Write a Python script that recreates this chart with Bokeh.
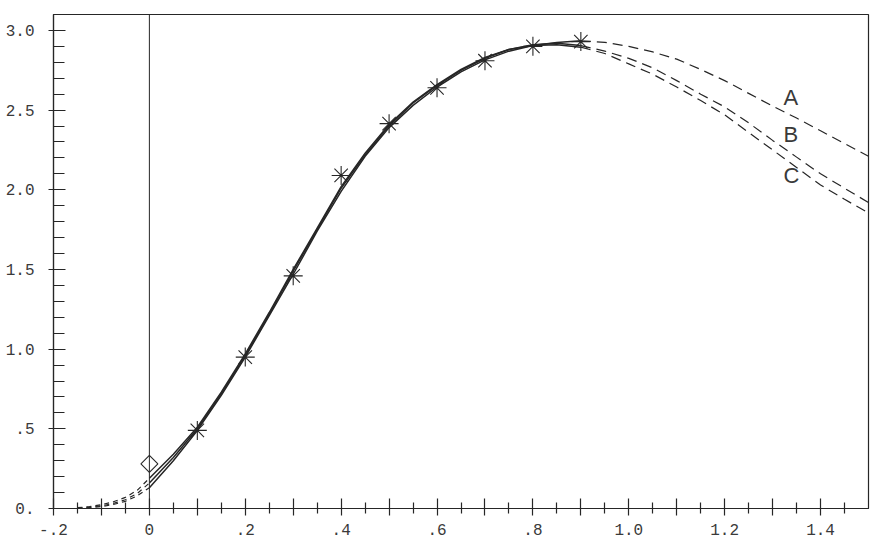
import math
from bokeh.plotting import figure
from bokeh.models import FixedTicker, Span, Range1d, ColumnDataSource
from bokeh.embed import file_html
from bokeh.resources import INLINE

# ---- data ----
x_left = [-0.15, -0.125, -0.1, -0.075, -0.05, -0.025, 0.0]
a_left = [0.0, 0.005, 0.012, 0.025, 0.045, 0.08, 0.13]
b_left = [0.002, 0.008, 0.017, 0.032, 0.055, 0.095, 0.16]
c_left = [0.005, 0.012, 0.024, 0.042, 0.07, 0.115, 0.19]

x_solid = [0.0, 0.05, 0.1, 0.15, 0.2, 0.25, 0.3, 0.35, 0.4, 0.45, 0.5,
           0.55, 0.6, 0.65, 0.7, 0.75, 0.8, 0.85, 0.9]
a_solid = [0.13, 0.30, 0.49, 0.71, 0.95, 1.21, 1.47, 1.74, 1.99, 2.21, 2.39,
           2.53, 2.645, 2.74, 2.815, 2.87, 2.905, 2.925, 2.935]
b_solid = [0.16, 0.32, 0.50, 0.72, 0.96, 1.22, 1.49, 1.75, 2.01, 2.22, 2.40,
           2.545, 2.655, 2.75, 2.825, 2.88, 2.91, 2.92, 2.905]
c_solid = [0.19, 0.34, 0.51, 0.73, 0.97, 1.23, 1.50, 1.76, 2.02, 2.23, 2.41,
           2.55, 2.66, 2.755, 2.83, 2.88, 2.905, 2.91, 2.895]

x_right = [0.9, 0.95, 1.0, 1.05, 1.1, 1.15, 1.2, 1.25, 1.3, 1.35, 1.4, 1.45, 1.5]
a_right = [2.935, 2.925, 2.90, 2.865, 2.82, 2.755, 2.685, 2.605, 2.525, 2.45, 2.37, 2.29, 2.21]
b_right = [2.905, 2.87, 2.825, 2.765, 2.685, 2.60, 2.52, 2.42, 2.31, 2.205, 2.10, 2.01, 1.92]
c_right = [2.895, 2.855, 2.79, 2.725, 2.645, 2.56, 2.47, 2.36, 2.25, 2.14, 2.03, 1.94, 1.855]

x_obs = [0.1, 0.2, 0.3, 0.4, 0.5, 0.6, 0.7, 0.8, 0.9]
y_obs = [0.49, 0.95, 1.46, 2.09, 2.415, 2.64, 2.81, 2.90, 2.93]

x_diamond = [0.0]
y_diamond = [0.28]

curve_labels = ["A", "B", "C"]
label_x = [1.3225, 1.3225, 1.3225]
label_y = [2.58, 2.35, 2.09]

x_major = [-0.2, -0.1, 0.0, 0.1, 0.2, 0.3, 0.4, 0.5, 0.6, 0.7, 0.8, 0.9,
           1.0, 1.1, 1.2, 1.3, 1.4]
x_major_labels = ["-.2", "", "0", "", ".2", "", ".4", "", ".6", "", ".8", "",
                  "1.0", "", "1.2", "", "1.4"]
x_minor = [-0.15, -0.05, 0.05, 0.15, 0.25, 0.35, 0.45, 0.55, 0.65, 0.75,
           0.85, 0.95, 1.05, 1.15, 1.25, 1.35, 1.45]

y_major = [0.0, 0.5, 1.0, 1.5, 2.0, 2.5, 3.0]
y_major_labels = ["0.", ".5", "1.0", "1.5", "2.0", "2.5", "3.0"]
y_minor = [0.1, 0.2, 0.3, 0.4, 0.6, 0.7, 0.8, 0.9, 1.1, 1.2, 1.3, 1.4,
           1.6, 1.7, 1.8, 1.9, 2.1, 2.2, 2.3, 2.4, 2.6, 2.7, 2.8, 2.9, 3.1]

# ---- figure ----
INK = "#262626"
p = figure(width=888, height=549, output_backend="svg", toolbar_location=None,
           x_range=Range1d(-0.2, 1.5), y_range=Range1d(0, 3.1),
           min_border_left=53, min_border_right=20, min_border_top=14,
           min_border_bottom=41)
p.background_fill_color = "white"
p.border_fill_color = "white"
p.outline_line_color = INK
p.outline_line_width = 1.2
p.grid.visible = False

xa = p.xaxis[0]
xa.ticker = FixedTicker(ticks=x_major, minor_ticks=x_minor)
xa.major_label_overrides = dict(zip(x_major, x_major_labels))
xa.major_tick_in = 10
xa.major_tick_out = 7
xa.minor_tick_in = 6
xa.minor_tick_out = 5
xa.major_label_standoff = 8
ya = p.yaxis[0]
ya.ticker = FixedTicker(ticks=y_major, minor_ticks=y_minor)
ya.major_label_overrides = dict(zip(y_major, y_major_labels))
ya.major_tick_in = 12
ya.major_tick_out = 5
ya.minor_tick_in = 11
ya.minor_tick_out = 0
ya.major_label_standoff = 14

for ax in (xa, ya):
    ax.axis_line_color = INK
    ax.axis_line_width = 1.2
    ax.major_tick_line_color = INK
    ax.minor_tick_line_color = INK
    ax.major_tick_line_width = 1.2
    ax.minor_tick_line_width = 1.2
    ax.major_label_text_font = "Liberation Mono"
    ax.major_label_text_font_size = "16px"
    ax.major_label_text_color = "#3a3a3a"

p.add_layout(Span(location=0, dimension="height", line_color=INK, line_width=1))

for xl, yl, xs, ys, xr, yr in [
    (x_left, a_left, x_solid, a_solid, x_right, a_right),
    (x_left, b_left, x_solid, b_solid, x_right, b_right),
    (x_left, c_left, x_solid, c_solid, x_right, c_right),
]:
    p.line(xl, yl, line_color=INK, line_width=1.2, line_dash="5 4")
    p.line(xs, ys, line_color=INK, line_width=1.5)
    p.line(xr, yr, line_color=INK, line_width=1.2, line_dash="10 6")

p.scatter(x_obs, y_obs, marker="asterisk", size=19, line_color=INK, line_width=1.1)
p.scatter(x_diamond, y_diamond, marker="square", angle=math.pi / 4, size=12,
          fill_color=None, line_color=INK, line_width=1.1)

src = ColumnDataSource(dict(x=label_x, y=label_y, t=curve_labels))
p.text(x="x", y="y", text="t", source=src, text_font_size="22px",
       text_font={"value": "Liberation Sans"}, text_color="#3a3a3a",
       text_baseline="middle", text_align="left")

open("out.html", "w").write(file_html(p, INLINE))
